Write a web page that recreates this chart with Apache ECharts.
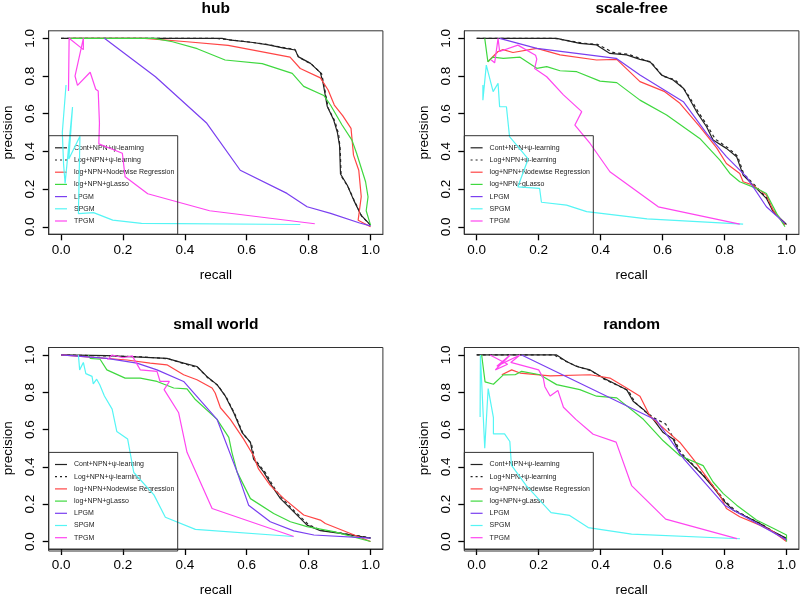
<!DOCTYPE html>
<html><head><meta charset="utf-8">
<script src="https://cdn.jsdelivr.net/npm/echarts@6/dist/echarts.min.js"></script>
<style>html,body{margin:0;padding:0;background:#fff}#c{width:800px;height:598px}</style>
</head><body><div id="c"></div>
<script>
const panelTitles = ["hub", "scale-free", "small world", "random"];
const methodNames = ["Cont+NPN+ψ-learning", "Log+NPN+ψ-learning", "log+NPN+Nodewise Regression", "log+NPN+gLasso", "LPGM", "SPGM", "TPGM"];
const tickValues = [0, 0.2, 0.4, 0.6, 0.8, 1.0];
const xAxisTitle = "recall";
const yAxisTitle = "precision";

// ---- hub ---- [recall, precision]
const hubCont = [[0,1],[0.52,1],[0.55,0.99],[0.62,0.978],[0.67,0.965],[0.72,0.948],[0.757,0.938],[0.766,0.903],[0.806,0.867],[0.838,0.818],[0.847,0.76],[0.86,0.64],[0.881,0.566],[0.893,0.5],[0.9,0.43],[0.903,0.28],[0.925,0.22],[0.946,0.14],[0.97,0.06],[1,0.009]];
const hubLog = [[0,1],[0.5,1],[0.545,0.992],[0.61,0.98],[0.665,0.968],[0.715,0.952],[0.755,0.942],[0.768,0.9],[0.81,0.862],[0.842,0.812],[0.85,0.75],[0.863,0.63],[0.885,0.56],[0.897,0.49],[0.902,0.41],[0.905,0.27],[0.928,0.21],[0.95,0.13],[0.972,0.055],[1,0.009]];
const hubNode = [[0.03,1],[0.27,1],[0.407,0.982],[0.54,0.963],[0.74,0.9],[0.773,0.84],[0.838,0.79],[0.863,0.726],[0.883,0.646],[0.91,0.59],[0.937,0.522],[0.945,0.38],[0.962,0.3],[0.97,0.16],[0.96,0.035],[1,0]];
const hubGlasso = [[0.03,1],[0.3,1],[0.36,0.982],[0.44,0.945],[0.53,0.885],[0.65,0.866],[0.747,0.814],[0.784,0.745],[0.849,0.697],[0.871,0.645],[0.908,0.54],[0.94,0.46],[0.955,0.39],[0.984,0.239],[0.992,0.159],[0.986,0.085],[1,0.009]];
const hubLPGM = [[0.14,1],[0.305,0.796],[0.471,0.549],[0.579,0.3],[0.73,0.177],[0.795,0.106],[0.871,0.071],[0.965,0.02],[1,0.005]];
const hubSPGM = [[0.016,0.752],[0.004,0.5],[0.008,0.335],[0.013,0.23],[0.037,0.635],[0.025,0.36],[0.061,0.48],[0.056,0.07],[0.105,0.075],[0.167,0.035],[0.26,0.018],[0.773,0.012]];
const hubTPGM = [[0.024,0.72],[0.026,1],[0.072,0.94],[0.072,1],[0.045,0.8],[0.053,0.75],[0.094,0.82],[0.112,0.73],[0.12,0.72],[0.124,0.55],[0.122,0.44],[0.198,0.39],[0.207,0.265],[0.28,0.175],[0.48,0.085],[0.82,0.016]];

// ---- scale-free ----
const sfCont = [[0,1],[0.258,1],[0.333,0.973],[0.387,0.965],[0.43,0.92],[0.484,0.912],[0.527,0.888],[0.559,0.876],[0.597,0.805],[0.634,0.779],[0.667,0.735],[0.683,0.69],[0.71,0.61],[0.742,0.531],[0.763,0.46],[0.806,0.416],[0.839,0.372],[0.86,0.274],[0.892,0.221],[0.935,0.151],[0.957,0.08],[1,0.012]];
const sfLog = [[0,1],[0.25,1],[0.34,0.975],[0.39,0.968],[0.44,0.925],[0.49,0.915],[0.53,0.892],[0.565,0.87],[0.6,0.8],[0.64,0.78],[0.67,0.73],[0.69,0.68],[0.715,0.61],[0.745,0.535],[0.77,0.465],[0.81,0.42],[0.842,0.375],[0.862,0.28],[0.895,0.225],[0.938,0.15],[0.96,0.075],[1,0.01]];
const sfNode = [[0.036,0.876],[0.069,0.93],[0.085,0.94],[0.117,0.925],[0.194,0.947],[0.269,0.912],[0.387,0.885],[0.452,0.888],[0.527,0.77],[0.607,0.717],[0.656,0.655],[0.72,0.531],[0.774,0.42],[0.806,0.336],[0.849,0.283],[0.86,0.239],[0.892,0.221],[0.935,0.168],[0.957,0.088],[0.995,0.009]];
const sfGlasso = [[0.026,1],[0.036,0.876],[0.052,0.9],[0.086,0.894],[0.14,0.9],[0.194,0.841],[0.226,0.85],[0.269,0.828],[0.323,0.823],[0.398,0.773],[0.452,0.765],[0.527,0.672],[0.613,0.593],[0.72,0.469],[0.785,0.354],[0.817,0.283],[0.849,0.239],[0.903,0.204],[0.935,0.177],[0.968,0.071],[0.995,0]];
const sfLPGM = [[0.074,1],[0.194,0.947],[0.45,0.894],[0.527,0.805],[0.667,0.664],[0.742,0.496],[0.806,0.372],[0.871,0.265],[0.935,0.106],[0.995,0.018]];
const sfSPGM = [[0.02,0.752],[0.02,0.672],[0.031,0.858],[0.053,0.717],[0.069,0.761],[0.074,0.637],[0.096,0.637],[0.106,0.478],[0.166,0.36],[0.133,0.212],[0.203,0.204],[0.209,0.13],[0.29,0.115],[0.355,0.08],[0.55,0.042],[0.86,0.014]];
const sfTPGM = [[0.047,0.885],[0.058,0.87],[0.069,1],[0.074,0.93],[0.133,0.964],[0.19,0.91],[0.194,0.89],[0.187,0.84],[0.226,0.796],[0.28,0.7],[0.339,0.611],[0.317,0.54],[0.366,0.442],[0.43,0.292],[0.586,0.106],[0.849,0.014]];

// ---- small world ----
const swCont = [[0,1],[0.148,0.996],[0.256,0.988],[0.342,0.982],[0.396,0.956],[0.439,0.938],[0.471,0.885],[0.504,0.841],[0.531,0.779],[0.558,0.69],[0.585,0.584],[0.612,0.531],[0.622,0.442],[0.655,0.372],[0.687,0.283],[0.709,0.23],[0.752,0.159],[0.795,0.088],[0.838,0.058],[0.903,0.044],[1,0.018]];
const swLog = [[0,1],[0.15,0.995],[0.26,0.99],[0.345,0.98],[0.4,0.952],[0.442,0.932],[0.474,0.878],[0.508,0.835],[0.535,0.77],[0.562,0.682],[0.588,0.578],[0.615,0.525],[0.626,0.44],[0.66,0.37],[0.69,0.285],[0.712,0.235],[0.755,0.162],[0.8,0.09],[0.842,0.06],[0.905,0.045],[1,0.02]];
const swNode = [[0,1],[0.213,0.973],[0.288,0.956],[0.342,0.947],[0.396,0.894],[0.439,0.867],[0.488,0.823],[0.498,0.796],[0.515,0.717],[0.547,0.655],[0.59,0.549],[0.622,0.46],[0.638,0.389],[0.676,0.301],[0.72,0.23],[0.784,0.142],[0.838,0.115],[0.854,0.097],[1,0]];
const swGlasso = [[0.088,1],[0.094,0.982],[0.126,0.977],[0.148,0.92],[0.207,0.876],[0.256,0.876],[0.31,0.858],[0.364,0.823],[0.407,0.818],[0.434,0.761],[0.504,0.655],[0.542,0.558],[0.552,0.478],[0.569,0.372],[0.612,0.23],[0.687,0.15],[0.741,0.106],[0.795,0.08],[0.881,0.053],[1,0]];
const swLPGM = [[0,1],[0.148,0.982],[0.245,0.956],[0.31,0.92],[0.396,0.858],[0.504,0.655],[0.569,0.372],[0.606,0.195],[0.676,0.106],[0.752,0.057],[0.817,0.035],[1,0.018]];
const swSPGM = [[0.056,1],[0.06,0.92],[0.072,0.96],[0.08,0.9],[0.1,0.885],[0.104,0.845],[0.115,0.87],[0.125,0.84],[0.14,0.78],[0.165,0.71],[0.18,0.59],[0.215,0.55],[0.235,0.37],[0.3,0.25],[0.337,0.13],[0.434,0.065],[0.75,0.027]];
const swTPGM = [[0.15,0.975],[0.165,1],[0.2,0.985],[0.23,0.995],[0.256,0.92],[0.31,0.912],[0.32,0.858],[0.35,0.858],[0.333,0.814],[0.38,0.69],[0.407,0.478],[0.488,0.177],[0.752,0.027]];

// ---- random ----
const rdCont = [[0,1],[0.258,1],[0.29,0.965],[0.323,0.938],[0.366,0.92],[0.409,0.876],[0.441,0.85],[0.484,0.814],[0.505,0.752],[0.538,0.708],[0.57,0.655],[0.602,0.584],[0.634,0.549],[0.656,0.469],[0.677,0.442],[0.699,0.407],[0.731,0.354],[0.763,0.292],[0.796,0.221],[0.828,0.168],[0.871,0.133],[0.914,0.097],[0.957,0.053],[1,0.018]];
const rdLog = [[0,1],[0.25,1],[0.295,0.96],[0.33,0.935],[0.37,0.915],[0.412,0.87],[0.445,0.845],[0.49,0.808],[0.51,0.748],[0.542,0.7],[0.575,0.66],[0.61,0.63],[0.638,0.545],[0.66,0.475],[0.68,0.44],[0.703,0.405],[0.735,0.35],[0.767,0.29],[0.8,0.22],[0.832,0.17],[0.875,0.13],[0.918,0.095],[0.96,0.05],[1,0.015]];
const rdNode = [[0.081,0.894],[0.113,0.92],[0.14,0.903],[0.237,0.888],[0.366,0.894],[0.43,0.876],[0.484,0.823],[0.527,0.779],[0.559,0.673],[0.613,0.593],[0.656,0.531],[0.699,0.442],[0.742,0.345],[0.785,0.248],[0.806,0.177],[0.849,0.133],[0.914,0.088],[0.957,0.053],[1,0]];
const rdGlasso = [[0.016,1],[0.027,0.856],[0.054,0.843],[0.086,0.893],[0.124,0.894],[0.145,0.912],[0.204,0.894],[0.258,0.841],[0.333,0.814],[0.387,0.779],[0.452,0.77],[0.538,0.655],[0.602,0.54],[0.656,0.46],[0.731,0.407],[0.763,0.319],[0.796,0.257],[0.839,0.195],[0.903,0.115],[0.957,0.071],[1,0.035],[1,0]];
const rdLPGM = [[0.145,1],[0.58,0.65],[0.67,0.44],[0.8,0.195],[1,0.009]];
const rdSPGM = [[0.011,0.667],[0.012,1],[0.026,0.5],[0.037,0.82],[0.054,0.664],[0.054,0.577],[0.09,0.577],[0.107,0.536],[0.112,0.41],[0.16,0.3],[0.24,0.155],[0.3,0.14],[0.36,0.075],[0.5,0.04],[0.85,0.015]];
const rdTPGM = [[0.043,1],[0.1,0.95],[0.06,0.92],[0.108,1],[0.065,0.94],[0.14,1],[0.11,0.96],[0.2,0.92],[0.215,0.876],[0.22,0.83],[0.237,0.78],[0.262,0.81],[0.28,0.72],[0.32,0.655],[0.376,0.575],[0.45,0.533],[0.5,0.3],[0.61,0.12],[0.84,0.016]];

const panelData = [
  [hubCont, hubLog, hubNode, hubGlasso, hubLPGM, hubSPGM, hubTPGM],
  [sfCont, sfLog, sfNode, sfGlasso, sfLPGM, sfSPGM, sfTPGM],
  [swCont, swLog, swNode, swGlasso, swLPGM, swSPGM, swTPGM],
  [rdCont, rdLog, rdNode, rdGlasso, rdLPGM, rdSPGM, rdTPGM]
];

// ---- styles ----
const colors = ["#222222", "#222222", "#ff4545", "#3fd83f", "#7a3ff0", "#55f5f5", "#ff45f0"];
const dashes = ["solid", [3, 3], "solid", "solid", "solid", "solid", "solid"];
const SOLID_ICON = "path://M0,0h12v1.2h-12z";
const DASH_ICON = "path://M0,0h2v1.2h-2zM5,0h2v1.2h-2zM10,0h2v1.2h-2z";
const FONT = "'Liberation Sans', Arial, Helvetica, sans-serif";
const gridBoxes = [
  {left: 48.7, top: 30.8, width: 334.2, height: 203.5},
  {left: 464.3, top: 30.8, width: 334.6, height: 203.5},
  {left: 48.7, top: 347.5, width: 334.2, height: 203.5},
  {left: 464.3, top: 347.5, width: 334.6, height: 203.5}
];

const option = {
  animation: false,
  backgroundColor: "#ffffff",
  title: [], grid: [], xAxis: [], yAxis: [], legend: [], series: [], graphic: []
};

gridBoxes.forEach((g, i) => {
  option.grid.push({left: g.left, top: g.top, width: g.width, height: g.height,
    show: true, borderColor: "#333", borderWidth: 1, backgroundColor: "transparent", containLabel: false});
  option.title.push({text: panelTitles[i], left: g.left + g.width / 2, top: g.top - 30.5, textAlign: "center", padding: 0,
    textStyle: {fontFamily: FONT, fontWeight: "bold", fontSize: 15.5, color: "#000"}});
  const axisCommon = {
    type: "value", min: -0.04, max: 1.04, gridIndex: i,
    splitLine: {show: false},
    axisLine: {show: true, onZero: false, lineStyle: {color: "#333", width: 1}},
    axisTick: {show: true, length: 6, customValues: tickValues, lineStyle: {color: "#000", width: 1.3}},
    nameLocation: "middle",
    nameTextStyle: {fontFamily: FONT, fontSize: 13.5, color: "#000"}
  };
  option.xAxis.push(Object.assign({}, axisCommon, {
    name: xAxisTitle, nameGap: 34,
    axisLabel: {customValues: tickValues, formatter: v => v.toFixed(1), margin: 9,
      fontFamily: FONT, fontSize: 13.5, color: "#000"}
  }));
  option.yAxis.push(Object.assign({}, axisCommon, {
    name: yAxisTitle, nameGap: 33, nameRotate: 90,
    axisLabel: {customValues: tickValues, formatter: v => v.toFixed(1), margin: 11, rotate: 90,
      fontFamily: FONT, fontSize: 13.5, color: "#000"}
  }));
  panelData[i].forEach((d, k) => {
    option.series.push({
      type: "line", name: methodNames[k], xAxisIndex: i, yAxisIndex: i, data: d,
      symbol: "none", showSymbol: false, silent: true, clip: true,
      lineStyle: {color: colors[k], width: 1.2, type: dashes[k]},
      itemStyle: {color: colors[k]},
      z: 2 + k
    });
  });
  option.legend.push({
    orient: "vertical", left: g.left + 6.3, top: g.top + 113, padding: 0,
    itemWidth: 12, itemHeight: 1.2, itemGap: 4.2, symbolKeepAspect: false,
    data: methodNames.map((n, k) => ({name: n, icon: dashes[k] === "solid" ? SOLID_ICON : DASH_ICON})),
    selectedMode: false,
    itemStyle: {borderWidth: 0},
    lineStyle: {width: 0},
    textStyle: {fontFamily: FONT, fontSize: 7, color: "#222", lineHeight: 8, padding: [0, 0, 0, 2]}
  });
  option.graphic.push({
    type: "rect", silent: true, z: 10,
    shape: {x: g.left, y: g.top + 104.9, width: 129, height: g.height - 104.9},
    style: {fill: "none", stroke: "#333", lineWidth: 1}
  });
});

const chart = echarts.init(document.getElementById("c"), null, {renderer: "canvas"});
chart.setOption(option);
</script></body></html>
